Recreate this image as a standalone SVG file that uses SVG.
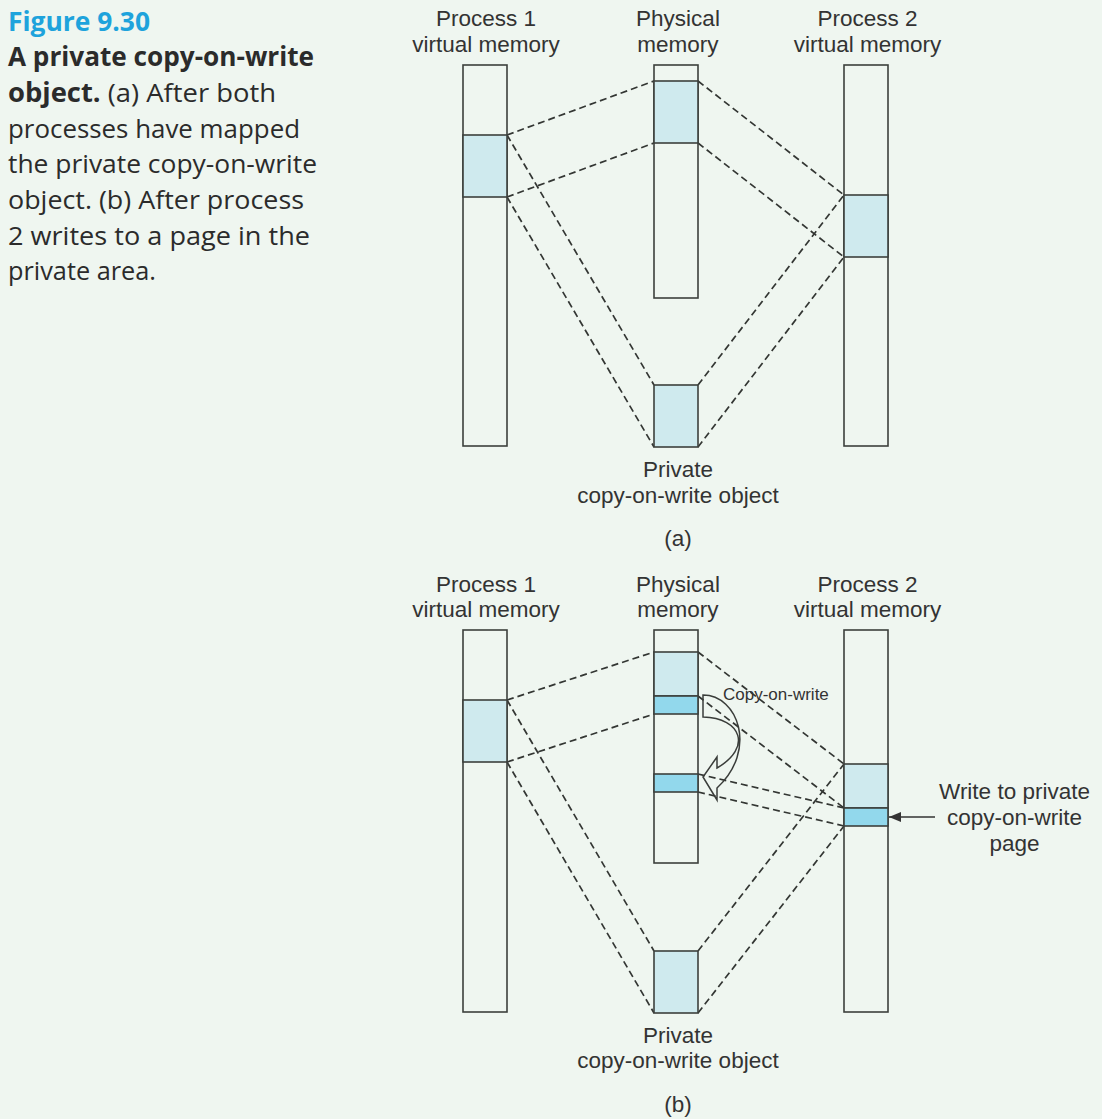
<svg xmlns="http://www.w3.org/2000/svg" width="1102" height="1119" viewBox="0 0 1102 1119">
<defs>
<style>
.bg{fill:#eff6f0}
.col{fill:none;stroke:#3c403c;stroke-width:1.6}
.pg{fill:#cfeaee;stroke:#3c403c;stroke-width:1.6}
.pgd{fill:#92d8ec;stroke:#3c403c;stroke-width:1.6}
.dash{stroke:#333633;stroke-width:1.7;stroke-dasharray:7 4;fill:none}
.lbl{font-family:"Liberation Sans",Arial,sans-serif;font-size:22.5px;fill:#333;text-anchor:middle}
.small{font-family:"Liberation Sans",Arial,sans-serif;font-size:17px;fill:#333}
.cap{font-family:"Open Sans","Noto Sans",sans-serif;font-size:26px;fill:#2b2b2b}
.fig{font-family:"Open Sans","Noto Sans",sans-serif;font-size:26px;font-weight:bold;fill:#1ea3dc}
</style>
<marker id="ah" viewBox="0 0 12 10" refX="12" refY="5" markerWidth="12" markerHeight="10" markerUnits="userSpaceOnUse" orient="auto">
<path d="M0,0 L12,5 L0,10 Z" fill="#333"/>
</marker>
</defs>
<rect class="bg" x="0" y="0" width="1102" height="1119"/>

<g id="caption">
<text class="fig" x="8" y="31" textLength="142" lengthAdjust="spacingAndGlyphs">Figure 9.30</text>
<text class="cap" x="8" y="66" textLength="306" lengthAdjust="spacingAndGlyphs" font-weight="bold">A private copy-on-write</text>
<text class="cap" x="8" y="102" textLength="268" lengthAdjust="spacingAndGlyphs"><tspan font-weight="bold">object.</tspan> (a) After both</text>
<text class="cap" x="8" y="137.5" textLength="292" lengthAdjust="spacingAndGlyphs">processes have mapped</text>
<text class="cap" x="8" y="173" textLength="309" lengthAdjust="spacingAndGlyphs">the private copy-on-write</text>
<text class="cap" x="8" y="209" textLength="296" lengthAdjust="spacingAndGlyphs">object. (b) After process</text>
<text class="cap" x="8" y="244.5" textLength="302" lengthAdjust="spacingAndGlyphs">2 writes to a page in the</text>
<text class="cap" x="8" y="280" textLength="148" lengthAdjust="spacingAndGlyphs">private area.</text>
</g>

<g id="connectors-a">
<line class="dash" x1="507" y1="135" x2="654" y2="81"/>
<line class="dash" x1="507" y1="197" x2="654" y2="143"/>
<line class="dash" x1="507" y1="135" x2="654" y2="385"/>
<line class="dash" x1="507" y1="197" x2="654" y2="447"/>
<line class="dash" x1="698" y1="81" x2="844" y2="195"/>
<line class="dash" x1="698" y1="143" x2="844" y2="257"/>
<line class="dash" x1="698" y1="385" x2="844" y2="195"/>
<line class="dash" x1="698" y1="447" x2="844" y2="257"/>
</g>

<g id="p1-vm-a">
<text class="lbl" x="486" y="26">Process 1</text>
<text class="lbl" x="486" y="51.5">virtual memory</text>
<rect class="col" x="463" y="65" width="44" height="381"/>
<rect class="pg" x="463" y="135" width="44" height="62"/>
</g>
<g id="phys-a">
<text class="lbl" x="678" y="26">Physical</text>
<text class="lbl" x="678" y="51.5">memory</text>
<rect class="col" x="654" y="65" width="44" height="233"/>
<rect class="pg" x="654" y="81" width="44" height="62"/>
</g>
<g id="p2-vm-a">
<text class="lbl" x="867.5" y="26">Process 2</text>
<text class="lbl" x="867.5" y="51.5">virtual memory</text>
<rect class="col" x="844" y="65" width="44" height="381"/>
<rect class="pg" x="844" y="195" width="44" height="62"/>
</g>
<g id="obj-a">
<rect class="pg" x="654" y="385" width="44" height="62"/>
<text class="lbl" x="678" y="477">Private</text>
<text class="lbl" x="678" y="502.5">copy-on-write object</text>
</g>
<text class="lbl" x="678" y="546">(a)</text>

<g id="connectors-b">
<line class="dash" x1="507" y1="700" x2="654" y2="652"/>
<line class="dash" x1="507" y1="762" x2="654" y2="714"/>
<line class="dash" x1="507" y1="700" x2="654" y2="951"/>
<line class="dash" x1="507" y1="762" x2="654" y2="1013"/>
<line class="dash" x1="698" y1="652" x2="844" y2="764"/>
<line class="dash" x1="698" y1="696" x2="844" y2="808"/>
<line class="dash" x1="698" y1="774" x2="844" y2="808"/>
<line class="dash" x1="698" y1="792" x2="844" y2="826"/>
<line class="dash" x1="698" y1="951" x2="844" y2="764"/>
<line class="dash" x1="698" y1="1013" x2="844" y2="826"/>
<path d="M703,695 C738,695 758,750 717,788 L717,800 L703,777 L717,757 L717,768 C752,748 742,718 703,717 Z" fill="none" stroke="#3a3d3a" stroke-width="1.5" stroke-linejoin="miter"/>
<line x1="935" y1="817" x2="889" y2="817" stroke="#333" stroke-width="1.6" marker-end="url(#ah)"/>
</g>

<g id="p1-vm-b">
<text class="lbl" x="486" y="591.5">Process 1</text>
<text class="lbl" x="486" y="617">virtual memory</text>
<rect class="col" x="463" y="630" width="44" height="382"/>
<rect class="pg" x="463" y="700" width="44" height="62"/>
</g>
<g id="phys-b">
<text class="lbl" x="678" y="591.5">Physical</text>
<text class="lbl" x="678" y="617">memory</text>
<rect class="col" x="654" y="630" width="44" height="233"/>
<rect class="pg" x="654" y="652" width="44" height="44"/>
<rect class="pgd" x="654" y="696" width="44" height="18"/>
<rect class="pgd" x="654" y="774" width="44" height="18"/>
</g>
<g id="p2-vm-b">
<text class="lbl" x="867.5" y="591.5">Process 2</text>
<text class="lbl" x="867.5" y="617">virtual memory</text>
<rect class="col" x="844" y="630" width="44" height="382"/>
<rect class="pg" x="844" y="764" width="44" height="44"/>
<rect class="pgd" x="844" y="808" width="44" height="18"/>
</g>
<g id="obj-b">
<rect class="pg" x="654" y="951" width="44" height="62"/>
<text class="lbl" x="678" y="1042.5">Private</text>
<text class="lbl" x="678" y="1068">copy-on-write object</text>
</g>
<text class="lbl" x="678" y="1111.5">(b)</text>
<g id="cow-label">
<text class="small" x="723" y="700">Copy-on-write</text>
</g>
<g id="write-label">
<text class="lbl" x="1014.5" y="799">Write to private</text>
<text class="lbl" x="1014.5" y="825">copy-on-write</text>
<text class="lbl" x="1014.5" y="851">page</text>
</g>
</svg>
